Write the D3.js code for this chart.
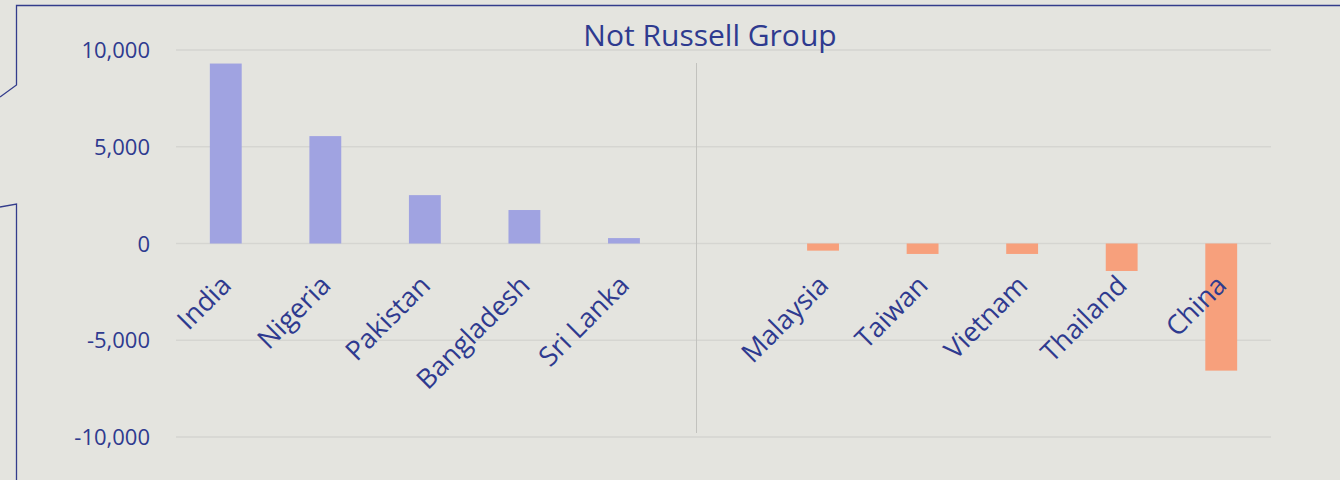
<!DOCTYPE html>
<html>
<head>
<meta charset="utf-8">
<script src="https://cdn.jsdelivr.net/npm/d3@7"></script>
<style>
  body { margin: 0; background: #e4e4df; }
  svg { display: block; }
</style>
</head>
<body>
<div class="chart"></div>
<script>
var categories = ["India", "Nigeria", "Pakistan", "Bangladesh", "Sri Lanka", "",
                  "Malaysia", "Taiwan", "Vietnam", "Thailand", "China"]
var values = [9300, 5550, 2500, 1730, 280, null, -370, -540, -540, -1420, -6570]
var yTicks = [-10000, -5000, 0, 5000, 10000]
var title = "Not Russell Group"

var width = 1340
var height = 480
var textColor = "#2e3a8f"
var font = "'Open Sans', 'Noto Sans', sans-serif"

var svg = d3.select(".chart")
    .append("svg")
    .attr("width", width)
    .attr("height", height)

svg.append("rect")
    .attr("width", width)
    .attr("height", height)
    .attr("fill", "#e4e4df")

// callout frame on the left / top
svg.append("path")
    .attr("d", "M1340,5.5 H16.5 V85 L0,97 M0,207 L16.5,204 V480")
    .attr("fill", "none")
    .attr("stroke", "#333c8c")
    .attr("stroke-width", 1.3)

var x = d3.scaleBand()
    .domain(d3.range(categories.length))
    .range([176, 1271])
    .paddingInner(0.68)
    .paddingOuter(0.34)

var y = d3.scaleLinear()
    .domain([-10000, 10000])
    .range([437, 50])

// gridlines
svg.selectAll(".grid")
    .data(yTicks)
    .enter()
    .append("line")
    .attr("x1", 176)
    .attr("x2", 1271)
    .attr("y1", d => y(d))
    .attr("y2", d => y(d))
    .attr("stroke", "#d5d5d1")
    .attr("stroke-width", 1.5)

// y labels
svg.selectAll(".ylab")
    .data(yTicks)
    .enter()
    .append("text")
    .attr("x", 150)
    .attr("y", d => y(d) + 8)
    .attr("text-anchor", "end")
    .attr("fill", textColor)
    .style("font-family", font)
    .style("font-size", "22px")
    .text(d => d3.format(",")(d).replace("−", "-"))

// separator between groups
svg.append("line")
    .attr("x1", 696.5)
    .attr("x2", 696.5)
    .attr("y1", 63)
    .attr("y2", 433)
    .attr("stroke", "#c2c2be")
    .attr("stroke-width", 1)

var rows = values.map((v, i) => ({i: i, v: v})).filter(d => d.v !== null)

// bars
svg.selectAll(".bar")
    .data(rows)
    .enter()
    .append("rect")
    .attr("x", d => x(d.i))
    .attr("width", x.bandwidth())
    .attr("y", d => y(Math.max(0, d.v)))
    .attr("height", d => Math.abs(y(d.v) - y(0)))
    .attr("fill", d => d.v >= 0 ? "#a0a3e1" : "#f7a07c")

// category labels
svg.selectAll(".xlab")
    .data(categories)
    .enter()
    .append("text")
    .attr("transform", (d, i) => "translate(" + (x(i) + x.bandwidth() / 2 + 7) + "," + 287 + ") rotate(-45)")
    .attr("text-anchor", "end")
    .attr("fill", textColor)
    .style("font-family", font)
    .style("font-size", "27px")
    .text(d => d)

svg.append("text")
    .attr("x", 710)
    .attr("y", 46)
    .attr("text-anchor", "middle")
    .attr("fill", textColor)
    .style("font-family", font)
    .style("font-size", "30px")
    .text(title)
</script>
</body>
</html>
